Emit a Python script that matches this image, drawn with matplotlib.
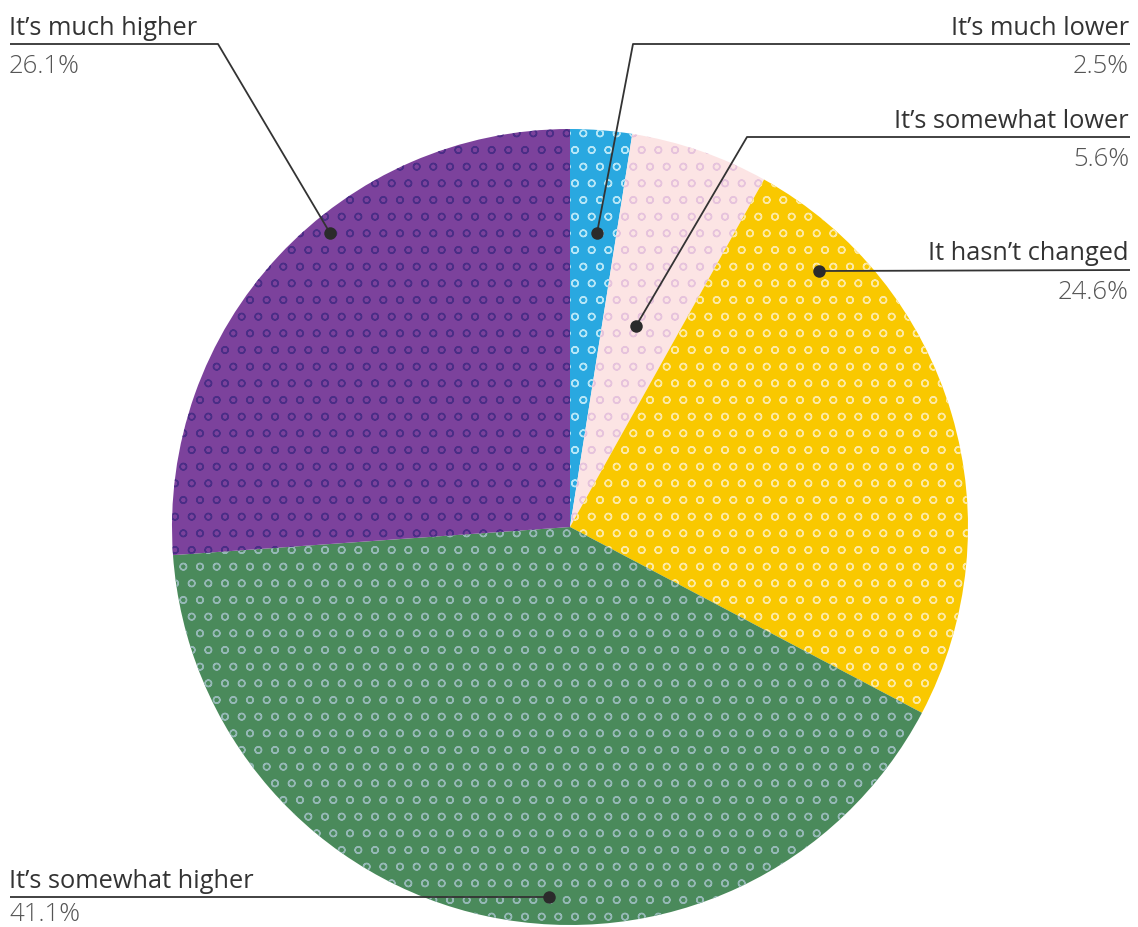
import matplotlib
matplotlib.use("Agg")
import matplotlib.pyplot as plt

# ---- data ----
categories = ["It’s much lower", "It’s somewhat lower", "It hasn’t changed",
              "It’s somewhat higher", "It’s much higher"]
values = [2.5, 5.6, 24.6, 41.1, 26.1]
pct_labels = ["2.5%", "5.6%", "24.6%", "41.1%", "26.1%"]

# ---- styles ----
fills = ["#29a8e0", "#fce4e4", "#f9c800", "#4a8a5b", "#7c429c"]
rings = ["#b5e6f7", "#e6c3dc", "#fde9a3", "#95b8b6", "#4a2d86"]

plt.rcParams['font.family'] = ['Open Sans', 'DejaVu Sans']
plt.rcParams['hatch.linewidth'] = 1.0

W, H = 1138, 927
fig = plt.figure(figsize=(W / 100, H / 100), dpi=100)
ax = fig.add_axes([0, 0, 1, 1])

wedges, _ = ax.pie(values, center=(570, 527), radius=398,
                   startangle=-90, counterclock=True,
                   colors=fills, wedgeprops=dict(linewidth=0))
for w, rc in zip(wedges, rings):
    w.set_hatch('o')
    w.set_edgecolor(rc)
    w.set_linewidth(0)

ax.set_xlim(0, W)
ax.set_ylim(H, 0)
ax.axis('off')

# ---- annotations (label placement) ----
ann = [
    # much lower
    dict(ha='right', tx=1129, ly=35, py=73,
         path=[(1130, 44), (633, 44), (597, 233)]),
    # somewhat lower
    dict(ha='right', tx=1129, ly=128, py=166,
         path=[(1130, 137), (747, 137), (636, 326)]),
    # hasn't changed
    dict(ha='right', tx=1129, ly=260, py=299,
         path=[(1130, 270), (819, 271)]),
    # somewhat higher
    dict(ha='left', tx=9, ly=888, py=921,
         path=[(10, 897), (549, 897)]),
    # much higher
    dict(ha='left', tx=9, ly=35, py=73,
         path=[(10, 44), (218, 44), (330, 233)]),
]

for cat, pct, a in zip(categories, pct_labels, ann):
    ax.text(a['tx'], a['ly'], cat, ha=a['ha'], va='baseline',
            fontsize=18.3, color='#333333', fontweight='normal')
    ax.text(a['tx'], a['py'], pct, ha=a['ha'], va='baseline',
            fontsize=18.5, color='#555555', fontweight='light')
    xs = [p[0] for p in a['path']]
    ys = [p[1] for p in a['path']]
    ax.plot(xs, ys, color='#333333', lw=1.3, solid_capstyle='butt')
    ax.plot([xs[-1]], [ys[-1]], 'o', color='#2b2b2b', ms=9, mew=0)

fig.savefig("out.png", dpi=100)
